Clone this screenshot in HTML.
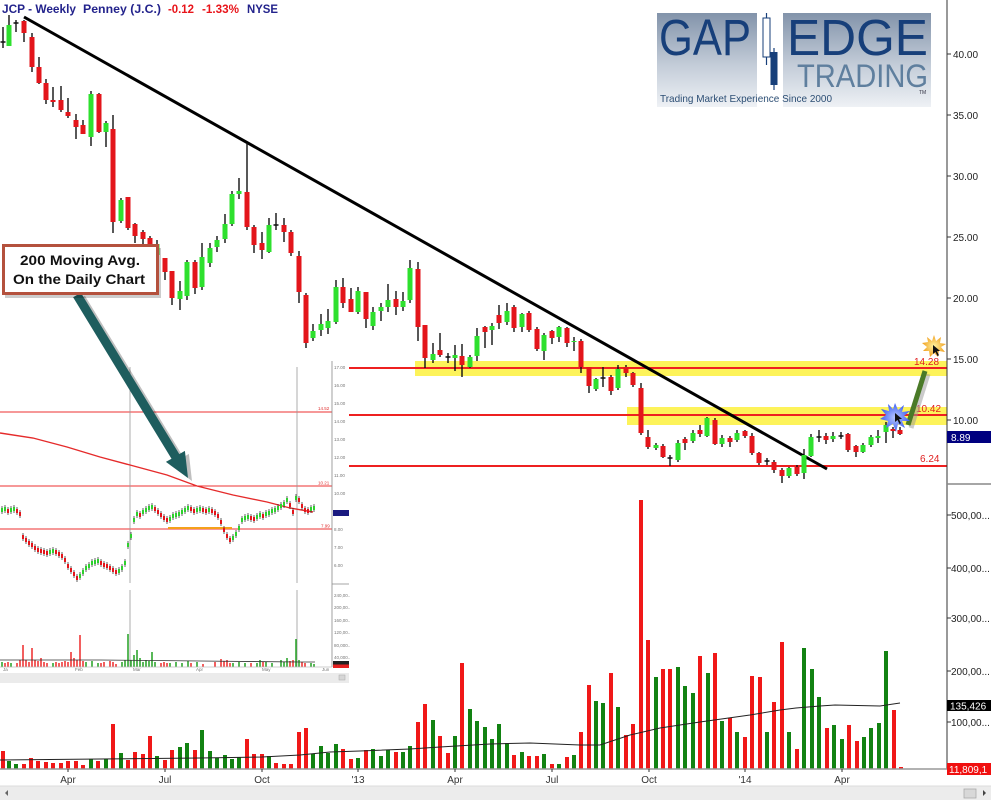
<!DOCTYPE html>
<html><head><meta charset="utf-8"><title>JCP Weekly</title>
<style>
html,body{margin:0;padding:0;background:#fff;}
svg{display:block;font-family:"Liberation Sans",Arial,sans-serif;}
</style></head>
<body>
<svg width="991" height="800" viewBox="0 0 991 800" xmlns="http://www.w3.org/2000/svg">
<defs>
<linearGradient id="lg" x1="0" y1="0" x2="0" y2="1">
<stop offset="0" stop-color="#8293aa"/><stop offset="0.55" stop-color="#c3ccd8"/><stop offset="1" stop-color="#eef1f5"/>
</linearGradient>
<radialGradient id="bs" cx="0.5" cy="0.5" r="0.5"><stop offset="0" stop-color="#b8c6ff"/><stop offset="1" stop-color="#3d5ff0"/></radialGradient>
<radialGradient id="os" cx="0.5" cy="0.5" r="0.5"><stop offset="0" stop-color="#fff3a0"/><stop offset="1" stop-color="#f0a020"/></radialGradient>
</defs>
<rect width="991" height="800" fill="#fff"/>

<!-- Logo -->
<rect x="657" y="13" width="100" height="94" fill="url(#lg)"/>
<rect x="783" y="13" width="148" height="94" fill="url(#lg)"/>
<text x="659" y="55" font-size="51" fill="#173f7a" textLength="92" lengthAdjust="spacingAndGlyphs">GAP</text>
<text x="787" y="55" font-size="51" fill="#173f7a" textLength="141" lengthAdjust="spacingAndGlyphs">EDGE</text>
<text x="797" y="87" font-size="32" fill="#5f7f9e" textLength="131" lengthAdjust="spacingAndGlyphs">TRADING</text>
<text x="919" y="94" font-size="5" fill="#334">TM</text>
<line x1="766.5" y1="13" x2="766.5" y2="65" stroke="#173f7a" stroke-width="1.2"/>
<rect x="763" y="18" width="7" height="39" fill="#fff" stroke="#173f7a" stroke-width="1"/>
<line x1="774" y1="48" x2="774" y2="90" stroke="#173f7a" stroke-width="1.2"/>
<rect x="770.5" y="52" width="7" height="33" fill="#173f7a"/>
<text x="660" y="102" font-size="10.5" fill="#2c4e74" textLength="172" lengthAdjust="spacingAndGlyphs">Trading Market Experience Since 2000</text>

<!-- Title -->
<text y="13" font-size="11.5" font-weight="bold">
<tspan x="2" fill="#23238c" textLength="74" lengthAdjust="spacingAndGlyphs">JCP - Weekly</tspan>
<tspan x="83" fill="#23238c" textLength="78" lengthAdjust="spacingAndGlyphs">Penney (J.C.)</tspan>
<tspan x="168" fill="#e8141a" textLength="26" lengthAdjust="spacingAndGlyphs">-0.12</tspan>
<tspan x="202" fill="#e8141a" textLength="37" lengthAdjust="spacingAndGlyphs">-1.33%</tspan>
<tspan x="247" fill="#23238c" textLength="31" lengthAdjust="spacingAndGlyphs">NYSE</tspan>
</text>

<!-- Yellow bands and levels -->
<rect x="415" y="361" width="532" height="15" fill="#fdf35a"/>
<rect x="627" y="407" width="320" height="18" fill="#fdf35a"/>
<line x1="0" y1="368" x2="947" y2="368" stroke="#ee2020" stroke-width="2"/>
<line x1="0" y1="415" x2="947" y2="415" stroke="#ee2020" stroke-width="2"/>
<line x1="0" y1="466" x2="947" y2="466" stroke="#ee2020" stroke-width="2"/>
<text x="914" y="365" font-size="10" fill="#e02020">14.28</text>
<text x="916" y="412" font-size="10" fill="#e02020">10.42</text>
<text x="920" y="462" font-size="10" fill="#e02020">6.24</text>

<!-- Trend line -->
<line x1="24" y1="17" x2="827" y2="469" stroke="#000" stroke-width="3"/>

<!-- Candles: wicks -->
<path fill="none" stroke="#111" stroke-width="1.4" d="M3 27V48M9 15V46M16 20V32M24 20V42M32 33V72M39 57V84M46 79V104M53 87V107M61 86V112M68 98V118M76 114V139M83 120V134M91 91V146M99 93V133M106 121V147M113 115V233M121 198V223M128 197V230M135 223V243M143 230V244M150 236V250M157 240V262M165 258V280M172 271V305M180 281V310M187 260V300M195 260V294M202 243V290M210 243V267M217 236V252M225 214V243M232 191V226M239 178V199M247 143V230M254 225V253M262 232V259M269 218V253M276 213V230M284 218V242M291 230V256M299 251V303M306 293V348M313 324V341M321 314V336M328 309V334M336 280V324M343 278V308M351 288V312M358 287V314M366 292V328M373 307V330M381 303V321M388 284V312M396 291V315M403 292V311M410 260V303M418 262V341M425 325V368M433 343V363M440 333V357M448 353V363M455 345V371M462 344V377M470 355V368M477 328V361M485 326V348M492 323V345M499 305V329M507 303V325M514 305V332M522 313V332M529 311V332M537 327V351M544 333V360M552 330V344M559 326V342M567 327V347M574 337V351M581 339V373M589 367V393M596 378V391M603 367V387M611 375V395M618 365V390M626 365V377M633 372V387M641 383V435M648 430V449M656 443V450M663 444V458M670 455V466M678 440V462M685 437V450M693 430V443M700 425V437M707 417V437M715 418V445M722 435V447M730 436V447M737 430V442M745 430V438M752 433V455M759 452V465M767 458V465M774 460V473M782 468V483M789 467V478M797 465V476M804 449V479M811 434V457M819 430V442M826 433V444M833 432V442M841 432V439M848 433V452M856 445V457M863 443V453M871 435V447M878 430V443M886 422V443M893 427V438M900 427V435"/>
<!-- red bodies -->
<path fill="none" stroke="#e3151b" stroke-width="5" d="M24 21V33M32 37V67M39 67V83M46 83V100M53 100V102M61 100V110M68 112V116M76 120V127M83 125V134M99 94V132M113 129V222M128 197V228M135 224V236M143 232V239M150 238V245M165 258V272M172 271V298M195 262V288M247 192V227M254 227V245M262 243V250M284 225V232M291 232V253M299 256V292M306 295V343M343 287V303M351 299V312M366 292V319M396 299V307M418 269V327M425 325V358M440 350V355M462 356V365M485 327V332M499 315V323M514 307V328M529 313V330M537 329V349M552 331V338M567 328V343M581 341V367M589 367V386M611 377V391M626 367V373M633 373V385M641 388V433M648 437V447M663 446V457M685 439V443M700 430V434M715 420V444M730 438V442M745 431V436M752 436V453M759 453V463M774 462V470M782 470V476M797 467V474M826 436V440M848 434V450M856 446V452M893 429V431M900 430V434"/>
<!-- green bodies -->
<path fill="none" stroke="#2ee02e" stroke-width="5" d="M9 25V46M91 94V137M106 123V132M121 200V221M157 244V255M180 291V299M187 262V296M202 257V287M210 248V263M217 240V247M225 224V239M232 194V224M239 191V194M269 225V252M313 331V338M321 324V330M328 321V328M336 287V322M358 291V312M373 312V326M381 307V311M388 300V307M403 301V307M410 268V300M433 354V360M455 355V358M470 357V367M477 336V356M492 326V330M507 311V322M522 314V327M544 335V351M559 327V337M574 341V342M596 379V389M618 369V388M656 445V448M678 443V460M693 433V441M707 418V436M722 438V444M737 433V440M789 468V476M804 455V473M811 437V456M833 436V439M863 445V452M871 437V445M878 436V438M886 425V432"/>
<!-- dojis -->
<path fill="none" stroke="#111" stroke-width="1.6" d="M0.5 42h5M13.5 23h5M273.5 225h5M445.5 357h5M600.5 378h5M667.5 458h5M764.5 461h5M816.5 437h5M838.5 436h5"/>

<!-- Volume -->
<path fill="none" stroke="#f01818" stroke-width="4" d="M3 769V751M24 769V764M31 769V758M38 769V761M46 769V762M53 769V763M61 769V763M68 769V761M76 769V761M83 769V765M98 769V761M113 769V724M128 769V760M135 769V752M143 769V754M150 769V736M165 769V760M172 769V750M195 769V750M247 769V739M254 769V754M262 769V754M276 769V763M284 769V764M291 769V764M299 769V732M306 769V728M343 769V749M351 769V759M366 769V750M396 769V752M418 769V722M425 769V704M440 769V736M448 769V753M462 769V663M514 769V755M529 769V756M537 769V756M552 769V764M567 769V757M581 769V732M589 769V685M611 769V673M626 769V735M633 769V724M641 769V500M648 769V640M663 769V669M670 769V669M700 769V656M715 769V653M730 769V718M745 769V737M752 769V676M760 769V677M774 769V702M782 769V642M797 769V749M827 769V728M849 769V725M857 769V741M894 769V710M901 769V767"/>
<path fill="none" stroke="#128212" stroke-width="4" d="M9 769V761M16 769V764M91 769V759M106 769V759M121 769V753M157 769V756M180 769V747M187 769V743M202 769V730M210 769V751M217 769V758M225 769V755M232 769V759M239 769V757M269 769V756M313 769V754M321 769V746M328 769V753M336 769V744M358 769V758M373 769V749M381 769V756M388 769V750M403 769V752M410 769V746M433 769V720M455 769V736M470 769V709M477 769V721M485 769V727M492 769V739M499 769V724M507 769V743M522 769V752M544 769V754M559 769V764M574 769V755M596 769V701M603 769V703M618 769V707M656 769V677M678 769V667M685 769V686M693 769V693M708 769V673M722 769V721M737 769V732M767 769V732M789 769V732M804 769V648M812 769V669M819 769V697M834 769V725M842 769V739M864 769V737M871 769V728M879 769V723M886 769V651"/>
<polyline fill="none" stroke="#222" stroke-width="1" points="0,760 100,759 200,758 262,757 300,755 330,752 360,751 410,749 440,747 490,744 530,743 580,745 600,745 630,735 660,728 700,722 750,715 780,710 796,708 820,706 835,705 880,706 900,703"/>

<!-- Axes -->
<line x1="947" y1="0" x2="947" y2="769" stroke="#333" stroke-width="1"/>
<line x1="947" y1="484" x2="991" y2="484" stroke="#888" stroke-width="1.5"/>
<line x1="0" y1="769" x2="991" y2="769" stroke="#999" stroke-width="1.5"/>
<g stroke="#333" stroke-width="1">
<path d="M947 54h4M947 115h4M947 176h4M947 237h4M947 298h4M947 359h4M947 420h4M947 515h4M947 568h4M947 618h4M947 671h4M947 722h4"/>
<path d="M68 769v3M165 769v3M262 769v3M358 769v3M455 769v3M552 769v3M649 769v3M745 769v3M842 769v3"/>
</g>
<g font-size="10" fill="#222">
<text x="953" y="58">40.00</text>
<text x="953" y="119">35.00</text>
<text x="953" y="180">30.00</text>
<text x="953" y="241">25.00</text>
<text x="953" y="302">20.00</text>
<text x="953" y="363">15.00</text>
<text x="953" y="424">10.00</text>
<text x="951" y="519">500,00...</text>
<text x="951" y="572">400,00...</text>
<text x="951" y="622">300,00...</text>
<text x="951" y="675">200,00...</text>
<text x="951" y="726">100,00...</text>
</g>
<rect x="947" y="431" width="44" height="12" fill="#00007f"/>
<text x="951" y="441" font-size="10" fill="#fff">8.89</text>
<rect x="947" y="700" width="44" height="11" fill="#000"/>
<text x="950" y="709.5" font-size="10" fill="#fff">135,426</text>
<rect x="947" y="763" width="44" height="12" fill="#f01010"/>
<text x="949" y="773" font-size="10" fill="#fff">11,809,1</text>
<g font-size="10" fill="#333" text-anchor="middle">
<text x="68" y="783">Apr</text><text x="165" y="783">Jul</text><text x="262" y="783">Oct</text><text x="358" y="783">'13</text>
<text x="455" y="783">Apr</text><text x="552" y="783">Jul</text><text x="649" y="783">Oct</text><text x="745" y="783">'14</text><text x="842" y="783">Apr</text>
</g>
<!-- scrollbar -->
<rect x="0" y="786" width="991" height="14" fill="#ececec"/>
<line x1="0" y1="786" x2="991" y2="786" stroke="#dcdcdc"/>
<path d="M8 790l-3 3 3 3z" fill="#666"/>
<rect x="964" y="789" width="12" height="9" fill="#d8d8d8" stroke="#aaa" stroke-width="0.8"/>
<path d="M983 790l3 3-3 3z" fill="#444"/>

<!-- Green arrow and stars -->
<line x1="911" y1="428" x2="928" y2="374" stroke="#999" stroke-width="5" opacity="0.5"/>
<line x1="908" y1="425" x2="925" y2="371" stroke="#4a7a28" stroke-width="5"/>
<polygon fill="url(#bs)" points="895,403 898,410 904,405 902,412 910,411 904,416 910,421 902,421 905,428 898,424 896,432 893,424 886,428 888,421 880,419 886,415 881,409 889,411 888,404 893,409"/>
<polygon fill="url(#os)" points="934,335 936,341 941,337 940,343 946,344 941,347 945,352 939,351 938,357 934,353 930,357 929,351 923,351 927,347 922,343 928,342 927,337 932,341"/>
<path d="M933 345l0 9 2.5-2 2 4 1.5-0.8-2-4 3-0.3z" fill="#111"/>
<path d="M895 413l0 9 2.5-2 2 4 1.5-0.8-2-4 3-0.3z" fill="#111"/>

<!-- Inset chart -->
<rect x="0" y="360" width="349" height="323" fill="#fff"/>
<line x1="0" y1="412" x2="332" y2="412" stroke="#ee3030" stroke-width="1"/>
<line x1="0" y1="486" x2="332" y2="486" stroke="#ee3030" stroke-width="1"/>
<line x1="0" y1="529" x2="332" y2="529" stroke="#ee3030" stroke-width="1"/>
<g font-size="4.5" fill="#e03030"><text x="318" y="410">14.52</text><text x="318" y="484.5">10.21</text><text x="321" y="527.5">7.99</text></g>
<line x1="130" y1="367" x2="130" y2="583" stroke="#999" stroke-width="0.8"/>
<line x1="297" y1="367" x2="297" y2="583" stroke="#999" stroke-width="0.8"/>
<line x1="130" y1="590" x2="130" y2="667" stroke="#999" stroke-width="0.8"/>
<line x1="297" y1="590" x2="297" y2="667" stroke="#999" stroke-width="0.8"/>
<polyline fill="none" stroke="#e52b2b" stroke-width="1.4" points="0,433 33,438 67,447 100,457 130,465 167,475 197,486 233,495 267,502 290,508 313,512"/>
<line x1="168" y1="528" x2="232" y2="528" stroke="#f5a01a" stroke-width="2"/>
<path fill="none" stroke="#222" stroke-width="0.7" d="M2 506v8M5 505v8M8 507v8M11 506v8M14 505v8M17 507v8M20 510v8M23 533v8M26 536v8M29 539v8M32 541v8M35 544v8M38 546v8M41 547v8M44 548v8M47 549v8M50 548v8M53 547v8M56 548v8M59 550v8M62 552v8M65 556v8M68 562v8M71 566v8M74 570v8M77 574v8M80 572v8M83 568v8M86 564v8M89 562v8M92 559v8M95 558v8M98 557v8M101 559v8M104 561v8M107 562v8M110 564v8M113 566v8M116 568v8M119 567v8M122 564v8M125 559v8M128 541v8M131 532v8M134 516v8M137 510v8M140 511v8M143 508v8M146 506v8M149 504v8M152 503v8M155 505v8M158 508v8M161 511v8M164 514v8M167 516v8M170 515v8M173 512v8M176 511v8M179 510v8M182 508v8M185 506v8M188 504v8M191 505v8M194 507v8M197 506v8M200 505v8M203 506v8M206 507v8M209 506v8M212 507v8M215 509v8M218 512v8M221 518v8M224 526v8M227 532v8M230 536v8M233 534v8M236 530v8M239 524v8M242 516v8M245 514v8M248 513v8M251 514v8M254 515v8M257 513v8M260 511v8M263 512v8M266 510v8M269 509v8M272 507v8M275 506v8M278 504v8M281 502v8M284 500v8M287 496v8M290 501v8M293 508v8M296 494v8M299 496v8M302 502v8M305 506v8M308 507v8M311 505v8M314 504v8"/>
<path fill="none" stroke="#e3151b" stroke-width="2" d="M8 509v4M17 509v4M20 512v4M23 535v4M26 538v4M29 541v4M32 543v4M35 546v4M38 548v4M41 549v4M44 550v4M47 551v4M56 550v4M59 552v4M62 554v4M65 558v4M68 564v4M71 568v4M74 572v4M77 576v4M101 561v4M104 563v4M107 564v4M110 566v4M113 568v4M116 570v4M140 513v4M155 507v4M158 510v4M161 513v4M164 516v4M167 518v4M191 507v4M194 509v4M203 508v4M206 509v4M212 509v4M215 511v4M218 514v4M221 520v4M224 528v4M227 534v4M230 538v4M251 516v4M254 517v4M263 514v4M290 503v4M293 510v4M299 498v4M302 504v4M305 508v4M308 509v4"/>
<path fill="none" stroke="#2ed02e" stroke-width="2" d="M2 508v4M5 507v4M11 508v4M14 507v4M50 550v4M53 549v4M80 574v4M83 570v4M86 566v4M89 564v4M92 561v4M95 560v4M98 559v4M119 569v4M122 566v4M125 561v4M128 543v4M131 534v4M134 518v4M137 512v4M143 510v4M146 508v4M149 506v4M152 505v4M170 517v4M173 514v4M176 513v4M179 512v4M182 510v4M185 508v4M188 506v4M197 508v4M200 507v4M209 508v4M233 536v4M236 532v4M239 526v4M242 518v4M245 516v4M248 515v4M257 515v4M260 513v4M266 512v4M269 511v4M272 509v4M275 508v4M278 506v4M281 504v4M284 502v4M287 498v4M296 496v4M311 507v4M314 506v4"/>
<path fill="none" stroke="#22a022" stroke-width="1.5" d="M128 667V634M131 667V660M134 667V655M137 667V650M140 667V658M143 667V662M146 667V660M149 667V661M152 667V652M155 667V662M170 667V663M176 667V662M182 667V663M188 667V661M197 667V662M233 667V663M239 667V662M245 667V663M257 667V663M260 667V660M266 667V662M272 667V663M281 667V660M284 667V662M287 667V658M296 667V639M299 667V660M311 667V663M314 667V664M2 667V662M11 667V663M53 667V663M86 667V662M92 667V661M98 667V663M122 667V662M125 667V660"/>
<path fill="none" stroke="#ee2a2a" stroke-width="1.5" d="M5 667V663M8 667V662M17 667V663M20 667V660M23 667V645M26 667V660M29 667V662M32 667V648M35 667V660M38 667V661M41 667V658M44 667V662M47 667V663M56 667V662M59 667V663M62 667V662M65 667V661M68 667V662M71 667V652M74 667V658M77 667V660M80 667V635M83 667V661M101 667V663M104 667V662M110 667V661M113 667V662M116 667V664M161 667V663M164 667V662M167 667V663M191 667V663M203 667V664M215 667V662M221 667V659M224 667V661M227 667V660M230 667V663M251 667V663M263 667V662M290 667V661M293 667V660M302 667V662M305 667V663"/>
<polyline fill="none" stroke="#333" stroke-width="0.8" points="0,660 100,660 200,661 300,662 315,662"/>
<line x1="332" y1="361" x2="332" y2="667" stroke="#888" stroke-width="0.8"/>
<line x1="332" y1="584" x2="349" y2="584" stroke="#888" stroke-width="0.8"/>
<line x1="0" y1="667" x2="332" y2="667" stroke="#bbb" stroke-width="0.8"/>
<g font-size="4.5" fill="#777">
<text x="334" y="369">17.00</text><text x="334" y="387">16.00</text><text x="334" y="405">15.00</text><text x="334" y="423">14.00</text>
<text x="334" y="441">13.00</text><text x="334" y="459">12.00</text><text x="334" y="477">11.00</text><text x="334" y="495">10.00</text>
<text x="334" y="531">8.00</text><text x="334" y="549">7.00</text><text x="334" y="567">6.00</text>
<text x="334" y="597">240,00..</text><text x="334" y="609">200,00..</text><text x="334" y="622">160,00..</text>
<text x="334" y="634">120,00..</text><text x="334" y="647">80,000..</text><text x="334" y="659">40,000..</text>
<text x="3" y="671">Ja</text><text x="75" y="671">Feb</text><text x="133" y="671">Mar</text><text x="196" y="671">Apr</text><text x="262" y="671">May</text><text x="322" y="671">Jun</text>
</g>
<rect x="333" y="510" width="16" height="6" fill="#1a1a80"/>
<rect x="333" y="661" width="16" height="3.5" fill="#222"/>
<rect x="333" y="664.5" width="16" height="3.5" fill="#e52020"/>
<rect x="0" y="673" width="349" height="10" fill="#ebebeb"/>
<rect x="339" y="675" width="6" height="5" fill="#d6d6d6" stroke="#aaa" stroke-width="0.5"/>

<!-- Teal arrow -->
<polygon fill="#000" opacity="0.25" transform="translate(4,3)" points="80.9,292.7 179.3,454.1 184.9,450.9 188,478 165.9,461.9 171.5,458.7 73.1,297.3"/>
<polygon fill="#1e5d5e" points="80.9,292.7 179.3,454.1 184.9,450.9 188,478 165.9,461.9 171.5,458.7 73.1,297.3"/>

<!-- Annotation box -->
<rect x="5" y="248" width="156" height="50" fill="#000" opacity="0.2"/>
<rect x="3.5" y="245.5" width="154" height="48" fill="#fff" stroke="#b4513d" stroke-width="3"/>
<text x="80" y="265" font-size="14" font-weight="bold" fill="#111" text-anchor="middle" textLength="120" lengthAdjust="spacingAndGlyphs">200 Moving Avg.</text>
<text x="79" y="284" font-size="14" font-weight="bold" fill="#111" text-anchor="middle" textLength="132" lengthAdjust="spacingAndGlyphs">On the Daily Chart</text>
</svg>
</body></html>
